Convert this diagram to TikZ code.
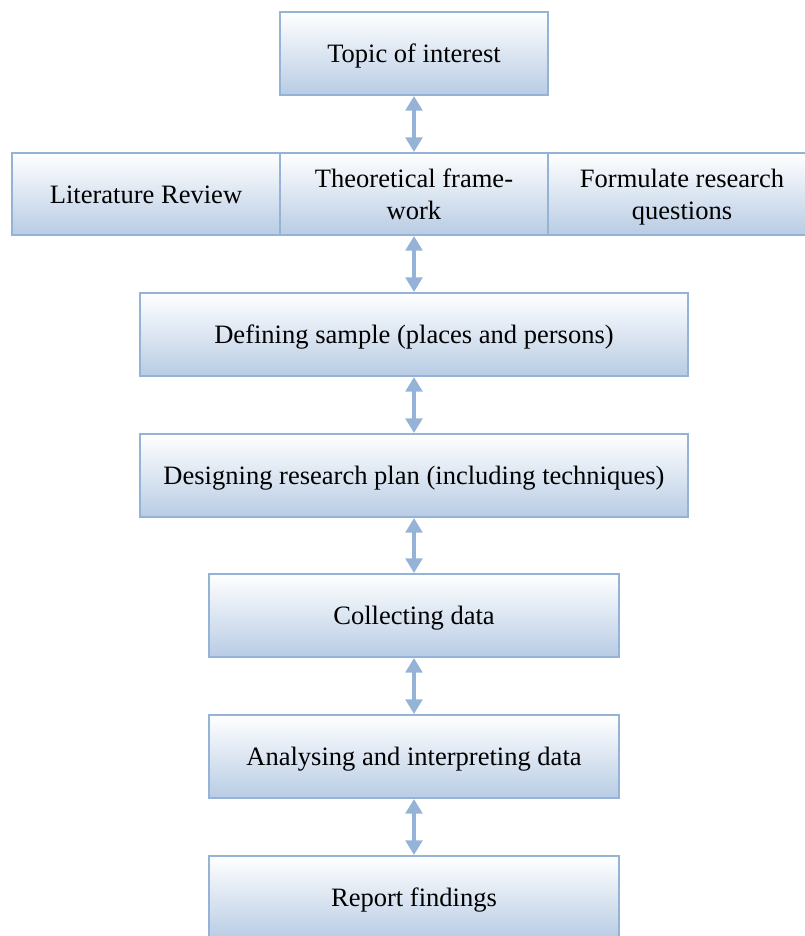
\documentclass[tikz,border=0pt]{standalone}
\usepackage{fontspec}
\setmainfont{Liberation Serif}
\usetikzlibrary{arrows.meta}

\definecolor{boxline}{RGB}{149,179,215}
\definecolor{boxbottom}{RGB}{184,204,228}

\begin{document}
\begin{tikzpicture}
  [x=0.75pt,y=-0.75pt,
   every node/.style={rectangle,draw=boxline,line width=1.5pt,top color=white,
     bottom color=boxbottom,inner sep=0pt,align=center,
     text height=17pt,text depth=3pt,
     font=\fontsize{19.9}{23.5}\selectfont},
   twoline/.style={text height=40.5pt},
   link/.style={draw=boxline,line width=2.6pt,
     {Triangle[width=12.5pt,length=11pt]}-{Triangle[width=12.5pt,length=11pt]}}]
  \useasboundingbox (0,0) rectangle (805,936);
  \clip (0,0) rectangle (805,936);

  \node[minimum width=201pt,minimum height=62.25pt] (topic) at (414,53.5) {Topic of interest};
  \node[minimum width=201pt,minimum height=61.5pt] (lit) at (146,194) {Literature Review};
  \node[twoline,minimum width=201pt,minimum height=61.5pt] (theo) at (414,194) {Theoretical frame-\\work};
  \node[twoline,minimum width=201pt,minimum height=61.5pt] (quest) at (682,194) {Formulate research\\questions};
  \node[minimum width=411pt,minimum height=62.25pt] (sample) at (414,334.5) {Defining sample (places and persons)};
  \node[minimum width=411pt,minimum height=62.25pt] (plan) at (414,475.5) {Designing research plan (including techniques)};
  \node[minimum width=307.5pt,minimum height=62.25pt] (collect) at (414,615.5) {Collecting data};
  \node[minimum width=307.5pt,minimum height=62.25pt] (analyse) at (414,756.5) {Analysing and interpreting data};
  \node[minimum width=307.5pt,minimum height=62.25pt] (report) at (414,897.5) {Report findings};

  \foreach \from/\to in {topic/theo, theo/sample, sample/plan, plan/collect, collect/analyse, analyse/report}
    \draw [link] (\from) -- (\to);

\end{tikzpicture}
\end{document}
